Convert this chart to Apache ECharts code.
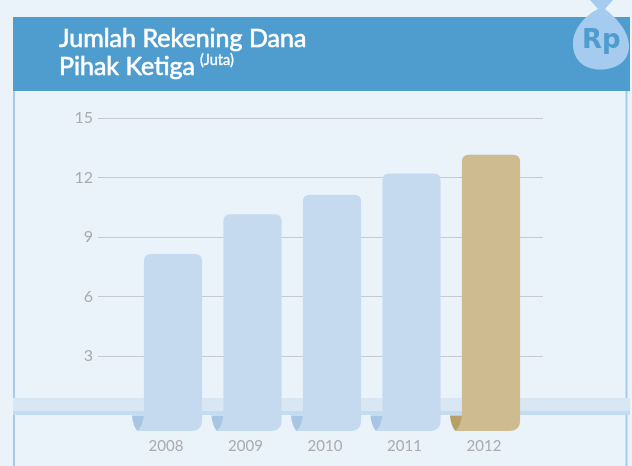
<!DOCTYPE html>
<html>
<head>
<meta charset="utf-8">
<style>html,body{margin:0;padding:0;background:#EAF2FA}#c{width:632px;height:466px}</style>
<script src="https://cdn.jsdelivr.net/npm/echarts@6/dist/echarts.min.js"></script>
</head>
<body>
<div id="c"></div>
<script>
const categories = ['2008', '2009', '2010', '2011', '2012'];
const values = [8.14, 10.15, 11.13, 12.2, 13.15];
const yTicks = [3, 6, 9, 12, 15];
const barBase = -0.78;
const colors = ['#C5DAEF', '#C5DAEF', '#C5DAEF', '#C5DAEF', '#CFBB90'];
const tailColors = ['#A7C6E4', '#A7C6E4', '#A7C6E4', '#A7C6E4', '#B89F65'];
const F = 'Lato, "Open Sans", sans-serif';

const chart = echarts.init(document.getElementById('c'), null, {renderer: 'canvas'});

function renderBar(params, api) {
  const i = api.value(0);
  const top = api.coord([i, api.value(1)]);
  const zero = api.coord([i, 0]);
  const bot = api.coord([i, barBase]);
  const w = api.size([1, 0])[0] * 0.732;
  const xl = top[0] - w / 2, xr = top[0] + w / 2;
  const yt = top[1], yb = bot[1], yz = zero[1];
  const curl = 6.5, r1 = 7, r2 = 11;
  const barPath = [
    'M', xl + r1, yt, 'L', xr - r1, yt, 'Q', xr, yt, xr, yt + r1,
    'L', xr, yb - r2, 'Q', xr, yb, xr - r2, yb,
    'L', xl - curl, yb, 'Q', xl - 1, yb - 5, xl, yz,
    'L', xl, yt + r1, 'Q', xl, yt, xl + r1, yt, 'Z'
  ].join(' ');
  const tl = xl - 12, tr = xl + 0.5;
  const tailPath = [
    'M', tl, yz, 'L', tr, yz, 'Q', tr - 1, yb - 4, xl - curl, yb,
    'Q', tl + 1, yb - 5, tl, yz, 'Z'
  ].join(' ');
  return {
    type: 'group',
    children: [
      {type: 'path', shape: {pathData: tailPath, x: tl, y: yz, width: tr - tl, height: yb - yz, layout: 'cover'},
       style: {fill: tailColors[i]}},
      {type: 'path', shape: {pathData: barPath, x: xl - curl, y: yt, width: w + curl, height: yb - yt, layout: 'cover'},
       style: {fill: colors[i]}}
    ]
  };
}

function renderBag() {
  return {
    type: 'path',
    shape: {
      pathData: 'M590 0 L613 0 L605 9 C614 16 629 30 629 46 C629 62 616 69.5 600 69.5 C584 69.5 573 60 573 44 C573 28 586 15 598 9 Z',
      x: 573, y: 0, width: 56, height: 69.5, layout: 'cover'
    },
    style: {fill: '#A5CBEE'}
  };
}

chart.setOption({
  backgroundColor: '#EAF2FA',
  animation: false,
  title: {
    left: 54, top: 20,
    text: '{a|Jumlah Rekening Dana}\n{a|Pihak Ketiga} {b|(Juta)}',
    textStyle: {
      rich: {
        a: {fontFamily: F, fontSize: 25, fontWeight: 400, color: '#fff', textBorderColor: '#fff', textBorderWidth: 0.6, lineHeight: 28},
        b: {fontFamily: F, fontSize: 14.5, fontWeight: 400, color: '#fff', textBorderColor: '#fff', textBorderWidth: 0.3, lineHeight: 22, verticalAlign: 'top'}
      }
    }
  },
  grid: [
    {left: 98, right: 89, top: 118, bottom: 50.5},
    {left: 133.25, width: 397.5, top: 118, bottom: 50.5}
  ],
  xAxis: [
    {gridIndex: 0, type: 'category', show: false, data: categories},
    {gridIndex: 1, type: 'category', data: categories,
     axisLine: {show: false}, axisTick: {show: false},
     axisLabel: {color: '#ABABAF', fontFamily: F, fontSize: 15, margin: 23, padding: [0, 14, 0, 0]}}
  ],
  yAxis: [
    {gridIndex: 0, type: 'value', min: 0, max: yTicks[yTicks.length - 1], interval: 3,
     axisLine: {show: false}, axisTick: {show: false},
     axisLabel: {color: '#ABABAF', fontFamily: F, fontSize: 16, margin: 5, padding: [2, 0, 0, 0], showMinLabel: false},
     splitLine: {show: true, showMinLine: false, lineStyle: {color: '#C6CBD3', width: 1}}},
    {gridIndex: 1, type: 'value', show: false, min: 0, max: yTicks[yTicks.length - 1], splitLine: {show: false}}
  ],
  series: [
    {
      type: 'custom', xAxisIndex: 1, yAxisIndex: 1, z: 5, clip: false,
      renderItem: renderBar,
      encode: {x: 0, y: 1},
      data: values.map((v, i) => [i, v])
    },
    {type: 'custom', coordinateSystem: 'none', z: 6, renderItem: renderBag, data: [[0]], silent: true}
  ],
  graphic: [
    {type: 'rect', z: -1, silent: true, shape: {x: 13, y: 91, width: 2, height: 375}, style: {fill: '#A5CBEE'}},
    {type: 'rect', z: -1, silent: true, shape: {x: 625.5, y: 91, width: 2, height: 375}, style: {fill: '#A5CBEE'}},
    {type: 'rect', z: 1, silent: true, shape: {x: 13, y: 398, width: 617, height: 13}, style: {fill: '#D9E6F4'}},
    {type: 'rect', z: 1, silent: true, shape: {x: 13, y: 411, width: 617, height: 4}, style: {fill: '#C5DBF0'}},
    {type: 'rect', z: -2, silent: true, shape: {x: 13, y: 17, width: 617, height: 74}, style: {fill: '#4F9DCE'}},
    {type: 'text', z: 20, silent: true, x: 582, y: 28,
     style: {text: 'Rp', fill: '#4F9DCE', font: 'bold 26px "DejaVu Sans", sans-serif'}}
  ]
});
</script>
</body>
</html>
